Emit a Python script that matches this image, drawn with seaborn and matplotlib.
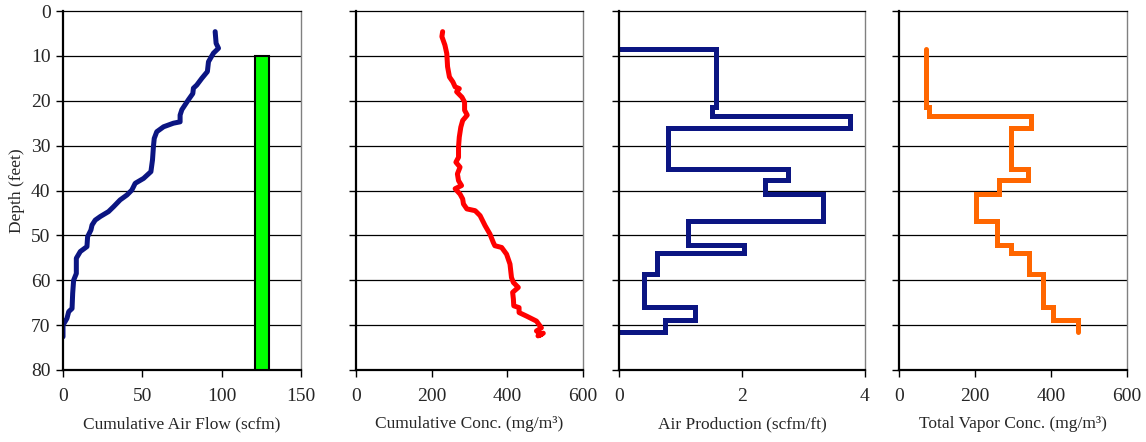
import numpy as np
import pandas as pd
import matplotlib
matplotlib.use("Agg")
import matplotlib.pyplot as plt
import seaborn as sns

# ---------------- data ----------------
# Panel 1: cumulative air flow (scfm) vs depth (ft)
flow_depth = [4.6, 7.2, 8.3, 9.4, 11.3, 13.5, 15.0, 16.5, 17.2, 18.4, 19.8, 22.0, 23.2, 24.7,
              25.0, 25.8, 26.9, 28.4, 30.2, 33.2, 35.8, 37.3, 38.4, 39.9, 41.0, 42.1, 43.6,
              44.7, 45.8, 46.6, 47.7, 48.8, 50.3, 52.5, 53.6, 55.1, 58.5, 60.0, 62.9, 66.3,
              67.0, 68.5, 70.0, 72.6]
flow_vals = [95.9, 96.5, 98.0, 94.8, 91.7, 91.0, 87.5, 84.3, 82.2, 81.8, 79.0, 74.9, 73.8, 73.8,
             69.6, 63.4, 59.1, 57.5, 57.0, 56.4, 55.4, 50.8, 45.5, 43.4, 40.3, 36.0, 31.9,
             28.7, 23.5, 20.3, 18.3, 17.6, 15.5, 15.1, 10.9, 8.4, 8.4, 6.7, 6.1, 5.7,
             3.6, 2.5, 0.0, 0.0]
# green bar in panel 1
bar_left, bar_right = 121, 130
bar_top, bar_bottom = 10, 80

# Panel 2: cumulative concentration (mg/m3)
conc_depth = [4.6, 5.7, 7.6, 9.5, 12.4, 14.7, 15.8, 16.9, 17.3, 18.0, 19.2, 20.3, 22.1, 23.2,
              24.4, 25.9, 28.1, 30.3, 32.6, 33.7, 34.8, 36.3, 37.8, 38.9, 39.6, 40.8, 41.9,
              43.0, 44.1, 44.5, 45.6, 47.8, 49.7, 51.6, 52.3, 52.7, 54.2, 56.4, 59.4, 60.5,
              61.6, 62.7, 64.2, 65.7, 66.1, 67.2, 68.0, 69.1, 70.6, 71.3, 72.1, 72.4, 71.8]
conc_vals = [229, 227, 235, 240, 242, 247, 256, 262, 273, 266, 280, 287, 287, 294,
             282, 277, 273, 271, 271, 264, 275, 268, 271, 279, 262, 275, 282,
             284, 293, 315, 328, 341, 354, 363, 367, 385, 398, 407, 411, 416,
             429, 414, 416, 417, 431, 431, 451, 477, 490, 477, 490, 481, 495]

# Panels 3 & 4: interval boundaries (ft) and per-interval values
interval_bounds = [8.4, 21.4, 23.3, 26.1, 35.2, 37.6, 40.7, 46.9, 52.2, 54.0, 58.6, 66.0, 68.8, 71.6]
air_prod = [1.58, 1.51, 3.75, 0.80, 2.74, 2.37, 3.31, 1.13, 2.03, 0.62, 0.40, 1.24, 0.75]
vapor_conc = [71, 79, 347, 294, 340, 263, 202, 259, 296, 343, 380, 405, 470]

x_labels = ["Cumulative Air Flow (scfm)", "Cumulative Conc. (mg/m\u00b3)",
            "Air Production (scfm/ft)", "Total Vapor Conc. (mg/m\u00b3)"]
x_limits = [(0, 150), (0, 600), (0, 4), (0, 600)]
x_ticks = [[0, 50, 100, 150], [0, 200, 400, 600], [0, 2, 4], [0, 200, 400, 600]]
y_ticks = [0, 10, 20, 30, 40, 50, 60, 70, 80]

# --------------- helpers ----------------
def step_path(bounds, vals, close_ends):
    xs, ys = [], []
    if close_ends:
        xs.append(0); ys.append(bounds[0])
    for i, v in enumerate(vals):
        xs += [v, v]
        ys += [bounds[i], bounds[i + 1]]
    if close_ends:
        xs.append(0); ys.append(bounds[-1])
    return pd.DataFrame({"x": xs, "depth": ys})

# --------------- plotting ----------------
sns.set_theme(style="white")
plt.rcParams["font.family"] = ["Liberation Serif", "DejaVu Serif"]
plt.rcParams["font.size"] = 13

fig = plt.figure(figsize=(11.46, 4.42), dpi=100)
lefts = [63, 356, 619, 899]
rights = [301, 583, 865, 1127]
top_px, bot_px = 11, 370
axes = []
for l, r in zip(lefts, rights):
    axes.append(fig.add_axes([l / 1146, 1 - bot_px / 442, (r - l) / 1146, (bot_px - top_px) / 442]))

navy = "#0b1582"
lw = 3.6

df1 = pd.DataFrame({"x": flow_vals, "depth": flow_depth})
sns.lineplot(data=df1, x="x", y="depth", sort=False, estimator=None, ax=axes[0],
             color=navy, lw=lw, solid_capstyle="round", solid_joinstyle="round")
axes[0].bar(x=(bar_left + bar_right) / 2, height=bar_bottom - bar_top, bottom=bar_top,
            width=bar_right - bar_left, color="#00ff00", edgecolor="black", linewidth=1.5, zorder=3)

df2 = pd.DataFrame({"x": conc_vals, "depth": conc_depth})
sns.lineplot(data=df2, x="x", y="depth", sort=False, estimator=None, ax=axes[1],
             color="#ff0000", lw=lw, solid_capstyle="round", solid_joinstyle="round")

df3 = step_path(interval_bounds, air_prod, True)
sns.lineplot(data=df3, x="x", y="depth", sort=False, estimator=None, ax=axes[2],
             color=navy, lw=lw, solid_joinstyle="miter")

df4 = step_path(interval_bounds, vapor_conc, False)
sns.lineplot(data=df4, x="x", y="depth", sort=False, estimator=None, ax=axes[3],
             color="#ff6600", lw=lw, solid_joinstyle="miter")

for i, ax in enumerate(axes):
    ax.set_xlim(*x_limits[i])
    ax.set_ylim(80, 0)
    ax.set_xticks(x_ticks[i])
    ax.set_yticks(y_ticks)
    for y in y_ticks[1:-1]:
        ax.axhline(y, color="black", lw=0.9, zorder=1)
    ax.set_xlabel(x_labels[i], fontsize=12.5, labelpad=8)
    ax.set_ylabel("")
    ax.tick_params(axis="both", direction="out", length=5, width=1, color="black",
                   labelsize=14, left=True, bottom=True)
    ax.tick_params(axis="x", pad=8)
    ax.tick_params(axis="y", pad=4)
    for s in ["left", "bottom"]:
        ax.spines[s].set_color("black")
        ax.spines[s].set_linewidth(1.6)
    ax.spines["top"].set_color("black")
    ax.spines["top"].set_linewidth(0.9)
    ax.spines["right"].set_color("#808080")
    ax.spines["right"].set_linewidth(1.0)
    if i > 0:
        ax.set_yticklabels([])

axes[0].set_ylabel("Depth (feet)", fontsize=12.5, labelpad=4)

fig.savefig("out.png", dpi=100)
